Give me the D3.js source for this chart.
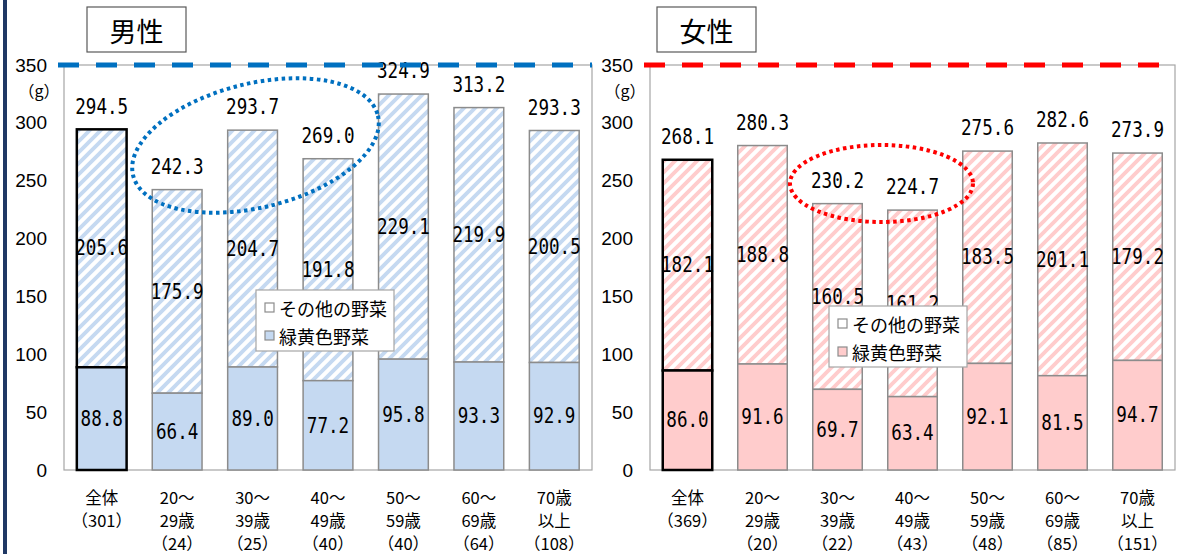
<!DOCTYPE html>
<html>
<head>
<meta charset="utf-8">
<script src="https://cdn.jsdelivr.net/npm/d3@7"></script>
<style>
  body { margin: 0; background: #fff; }
  svg { display: block; }
</style>
</head>
<body>
<script>
// categories
const ageLines = [["全体"], ["20～", "29歳"], ["30～", "39歳"], ["40～", "49歳"],
                  ["50～", "59歳"], ["60～", "69歳"], ["70歳", "以上"]];
const menN = [301, 24, 25, 40, 40, 64, 108];
const womenN = [369, 20, 22, 43, 48, 85, 151];

// 緑黄色野菜 (bottom) / その他の野菜 (top) / 合計
const menGreen = [88.8, 66.4, 89.0, 77.2, 95.8, 93.3, 92.9];
const menOther = [205.6, 175.9, 204.7, 191.8, 229.1, 219.9, 200.5];
const menTotal = [294.5, 242.3, 293.7, 269.0, 324.9, 313.2, 293.3];
const womenGreen = [86.0, 91.6, 69.7, 63.4, 92.1, 81.5, 94.7];
const womenOther = [182.1, 188.8, 160.5, 161.2, 183.5, 201.1, 179.2];
const womenTotal = [268.1, 280.3, 230.2, 224.7, 275.6, 282.6, 273.9];

const yTicks = [0, 50, 100, 150, 200, 250, 300, 350];
const legendNames = ["その他の野菜", "緑黄色野菜"];

const W = 1179, H = 554;
const svg = d3.select("body").append("svg").attr("width", W).attr("height", H);
const defs = svg.append("defs");

// navy bar at the left edge
svg.append("rect").attr("x", 3).attr("y", 0).attr("width", 4).attr("height", H).attr("fill", "#1F3864");

const fmt = d3.format(".1f");
const jp = "'Noto Sans CJK JP', sans-serif";

function drawPanel(o) {
  const g = svg.append("g");
  const y = d3.scaleLinear().domain([0, 350]).range([470, 65]);
  const x = d3.scaleBand().domain(d3.range(ageLines.length)).range([o.x0, o.x1])
    .paddingInner(0.34).paddingOuter(0.17);

  // hatch pattern
  const t = 11;
  const pat = defs.append("pattern").attr("id", o.id).attr("patternUnits", "userSpaceOnUse")
    .attr("width", t).attr("height", t);
  pat.append("rect").attr("width", t).attr("height", t).attr("fill", "#fff");
  pat.append("path").attr("d", `M-3,3L3,-3M0,${t}L${t},0M${t - 3},${t + 3}L${t + 3},${t - 3}`)
    .attr("stroke", o.color).attr("stroke-width", 3.8);

  // plot frame
  g.append("rect").attr("x", o.x0).attr("y", y(350)).attr("width", o.x1 - o.x0)
    .attr("height", y(0) - y(350)).attr("fill", "none").attr("stroke", "#A6A6A6").attr("stroke-width", 1.2);

  // y axis labels
  const ax = g.append("g").attr("transform", `translate(${o.x0 - 10},0)`)
    .call(d3.axisLeft(y).tickValues(yTicks).tickSize(0).tickPadding(7));
  ax.select(".domain").remove();
  ax.selectAll("text").attr("font-family", "'Liberation Sans', Arial, sans-serif")
    .attr("font-size", 19).attr("fill", "#000");
  g.append("text").attr("x", o.x0 - 25).attr("y", 90).attr("text-anchor", "middle")
    .attr("dominant-baseline", "central").attr("font-family", jp).attr("font-size", 16)
    .text("（g）");

  const rows = o.green.map((v, i) => ({ i, g: v, o: o.other[i], t: o.total[i] }));

  // bars
  const bars = g.selectAll(".bar").data(rows).join("g");
  bars.append("rect").attr("x", d => x(d.i)).attr("width", x.bandwidth())
    .attr("y", d => y(d.g + d.o)).attr("height", d => y(d.g) - y(d.g + d.o))
    .attr("fill", `url(#${o.id})`)
    .attr("stroke", d => d.i === 0 ? "#000" : "#8C8C8C").attr("stroke-width", d => d.i === 0 ? 2.5 : 1.5);
  bars.append("rect").attr("x", d => x(d.i)).attr("width", x.bandwidth())
    .attr("y", d => y(d.g)).attr("height", d => y(0) - y(d.g))
    .attr("fill", o.color)
    .attr("stroke", d => d.i === 0 ? "#000" : "#8C8C8C").attr("stroke-width", d => d.i === 0 ? 2.5 : 1.5);

  // top dashed line
  g.append("line").attr("x1", o.x0 - 6).attr("x2", o.x1).attr("y1", y(350)).attr("y2", y(350))
    .attr("stroke", o.dash).attr("stroke-width", 5).attr("stroke-dasharray", "21 17");

  // value labels
  const num = (sel, xf, yf, txt) => sel.append("text")
    .attr("transform", d => `translate(${xf(d)},${yf(d)}) scale(0.8,1)`)
    .attr("text-anchor", "middle").attr("dominant-baseline", "central")
    .attr("font-family", "'DejaVu Sans Mono', monospace").attr("font-size", 22).attr("fill", "#000")
    .text(txt);
  const cx = d => x(d.i) + x.bandwidth() / 2;
  num(bars, cx, d => (y(0) + y(d.g)) / 2, d => fmt(d.g));
  num(bars, cx, d => (y(d.g) + y(d.g + d.o)) / 2, d => fmt(d.o));
  num(bars, cx, d => y(d.g + d.o) - 23, d => fmt(d.t));

  // x labels
  const xl = g.selectAll(".xl").data(rows).join("text")
    .attr("text-anchor", "middle").attr("font-family", jp).attr("font-size", 16.5).attr("fill", "#000");
  xl.each(function(d) {
    const lines = ageLines[d.i].concat([`（${o.n[d.i]}）`]);
    d3.select(this).selectAll("tspan").data(lines).join("tspan")
      .attr("x", cx(d)).attr("y", (s, k) => 497 + k * 23).attr("dominant-baseline", "central").text(s => s);
  });

  // dotted ellipse
  g.append("ellipse").attr("cx", 0).attr("cy", 0).attr("rx", o.ell.rx).attr("ry", o.ell.ry)
    .attr("transform", `translate(${o.ell.cx},${o.ell.cy}) rotate(${o.ell.rot})`)
    .attr("fill", "none").attr("stroke", o.dash).attr("stroke-width", 4).attr("stroke-dasharray", "3.5 3.5");

  // legend
  const lg = g.append("g").attr("transform", `translate(${o.leg[0]},${o.leg[1]})`);
  lg.append("rect").attr("width", 138).attr("height", 61).attr("fill", "#fff")
    .attr("stroke", "#A6A6A6").attr("stroke-width", 1.2);
  const items = lg.selectAll(".li").data(legendNames).join("g")
    .attr("transform", (d, k) => `translate(9,${18 + k * 28})`);
  items.append("rect").attr("x", 0).attr("y", -5).attr("width", 9).attr("height", 9)
    .attr("fill", (d, k) => k === 0 ? "#fff" : o.color).attr("stroke", "#8C8C8C").attr("stroke-width", 1.2);
  items.append("text").attr("x", 14).attr("y", 0).attr("dominant-baseline", "central")
    .attr("font-family", jp).attr("font-size", 18).attr("fill", "#000").text(d => d);

  // title box
  const tb = g.append("g").attr("transform", `translate(${o.title[0]},7)`);
  tb.append("rect").attr("width", 99).attr("height", 45).attr("fill", "#fff")
    .attr("stroke", "#595959").attr("stroke-width", 1.2);
  tb.append("text").attr("x", 49.5).attr("y", 23).attr("text-anchor", "middle")
    .attr("dominant-baseline", "central").attr("font-family", jp).attr("font-size", 27)
    .attr("fill", "#000").text(o.name);
}

drawPanel({ id: "hatchM", name: "男性", x0: 64, x1: 592, color: "#C5D9F1", dash: "#0070C0",
  green: menGreen, other: menOther, total: menTotal, n: menN,
  ell: { cx: 255.5, cy: 145.5, rx: 126, ry: 62, rot: -13.7 }, leg: [256, 290], title: [87] });
drawPanel({ id: "hatchF", name: "女性", x0: 650, x1: 1175, color: "#FFCCCC", dash: "#FF0000",
  green: womenGreen, other: womenOther, total: womenTotal, n: womenN,
  ell: { cx: 881.5, cy: 183.5, rx: 91.5, ry: 38.5, rot: 0 }, leg: [829, 306], title: [657] });
</script>
</body>
</html>
